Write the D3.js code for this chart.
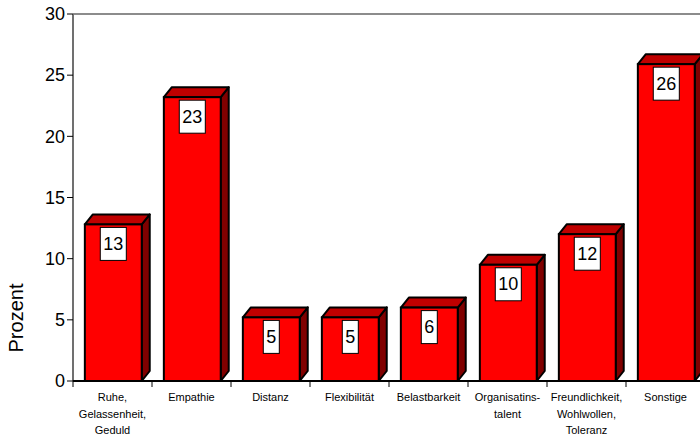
<!DOCTYPE html>
<html>
<head>
<meta charset="utf-8">
<script src="https://cdn.jsdelivr.net/npm/d3@7"></script>
<style>
  body { margin: 0; background: #fff; }
  text { font-family: Arial, "Liberation Sans", sans-serif; }
</style>
</head>
<body>
<svg id="chart" width="700" height="440"></svg>
<script>
// data
var categories = ["Ruhe", "Empathie", "Distanz", "Flexibilität", "Belastbarkeit", "Organisatinstalent", "Freundlichkeit", "Sonstige"];
var catLines = [
  ["Ruhe,", "Gelassenheit,", "Geduld"],
  ["Empathie"],
  ["Distanz"],
  ["Flexibilität"],
  ["Belastbarkeit"],
  ["Organisatins-", "talent"],
  ["Freundlichkeit,", "Wohlwollen,", "Toleranz"],
  ["Sonstige"]
];
var values = [12.8, 23.2, 5.2, 5.2, 6.0, 9.5, 12.0, 25.9];
var valueLabels = ["13", "23", "5", "5", "6", "10", "12", "26"];
var yTicks = [0, 5, 10, 15, 20, 25, 30];

var svg = d3.select("#chart");
var plotLeft = 73, plotRight = 705, plotTop = 14, plotBottom = 381;
var depthX = 8, depthY = 10;

var x = d3.scaleBand().domain(categories).range([plotLeft, plotRight]);
var y = d3.scaleLinear().domain([0, 30]).range([plotBottom, plotTop]);

// plot border (top)
svg.append("line").attr("x1", plotLeft).attr("x2", plotRight).attr("y1", plotTop).attr("y2", plotTop)
  .attr("stroke", "#8c8c8c").attr("stroke-width", 2);

var bars = svg.selectAll("g.bar").data(values).enter().append("g").attr("class", "bar");

function bx(i) { return x(categories[i]) + x.bandwidth() * 0.15; }
var bw = x.bandwidth() * 0.72;

// right side
bars.append("path")
  .attr("d", function(d, i) {
    var x0 = bx(i) + bw, yt = y(d), yb = y(0);
    return "M" + x0 + "," + yt + "L" + (x0 + depthX) + "," + (yt - depthY) +
      "L" + (x0 + depthX) + "," + (yb - depthY) + "L" + x0 + "," + yb + "Z";
  })
  .attr("fill", "#800000").attr("stroke", "#000").attr("stroke-width", 2).attr("stroke-linejoin", "round");

// top
bars.append("path")
  .attr("d", function(d, i) {
    var x0 = bx(i), yt = y(d);
    return "M" + x0 + "," + yt + "L" + (x0 + depthX) + "," + (yt - depthY) +
      "L" + (x0 + bw + depthX) + "," + (yt - depthY) + "L" + (x0 + bw) + "," + yt + "Z";
  })
  .attr("fill", "#c00000").attr("stroke", "#000").attr("stroke-width", 2).attr("stroke-linejoin", "round");

// front
bars.append("rect")
  .attr("x", function(d, i) { return bx(i); })
  .attr("y", function(d) { return y(d); })
  .attr("width", bw)
  .attr("height", function(d) { return y(0) - y(d); })
  .attr("fill", "#ff0000").attr("stroke", "#000").attr("stroke-width", 2);

// value boxes
bars.each(function(d, i) {
  var g = d3.select(this);
  var cx = bx(i) + bw / 2;
  var boxTop = y(d) + 3;
  var rect = g.append("rect");
  var t = g.append("text")
    .attr("x", cx).attr("y", boxTop + 16.5)
    .attr("text-anchor", "middle").attr("dominant-baseline", "central")
    .attr("font-size", 18).text(valueLabels[i]);
  var w = t.node().getComputedTextLength() + 6;
  rect.attr("x", cx - w / 2).attr("y", boxTop).attr("width", w).attr("height", 33)
    .attr("fill", "#fff").attr("stroke", "#000").attr("stroke-width", 1);
});

// y axis
svg.append("line").attr("x1", plotLeft).attr("x2", plotLeft).attr("y1", plotTop).attr("y2", plotBottom)
  .attr("stroke", "#707070").attr("stroke-width", 2);
var yt = svg.selectAll("g.ytick").data(yTicks).enter().append("g");
yt.append("line").attr("x1", plotLeft - 6).attr("x2", plotLeft).attr("y1", d => y(d)).attr("y2", d => y(d))
  .attr("stroke", "#000").attr("stroke-width", 1);
yt.append("text").attr("x", plotLeft - 8).attr("y", d => y(d)).attr("dy", "0.35em")
  .attr("text-anchor", "end").attr("font-size", 18).text(d => d);

// x axis
svg.append("line").attr("x1", plotLeft).attr("x2", plotRight).attr("y1", plotBottom).attr("y2", plotBottom)
  .attr("stroke", "#000").attr("stroke-width", 2);
var xt = categories.map(c => x(c)).concat([plotRight]);
svg.selectAll("line.xtick").data(xt).enter().append("line")
  .attr("x1", d => d).attr("x2", d => d).attr("y1", plotBottom).attr("y2", plotBottom + 6)
  .attr("stroke", "#000").attr("stroke-width", 1);

svg.selectAll("text.cat").data(catLines).enter().append("text")
  .attr("text-anchor", "middle").attr("font-size", 11)
  .each(function(lines, i) {
    var t = d3.select(this);
    lines.forEach(function(l, j) {
      t.append("tspan").attr("x", x(categories[i]) + x.bandwidth() / 2)
        .attr("y", 401 + j * 16.5).text(l);
    });
  });

// y label
svg.append("text").attr("transform", "translate(23,318) rotate(-90)")
  .attr("text-anchor", "middle").attr("font-size", 20).text("Prozent");
</script>
</body>
</html>
